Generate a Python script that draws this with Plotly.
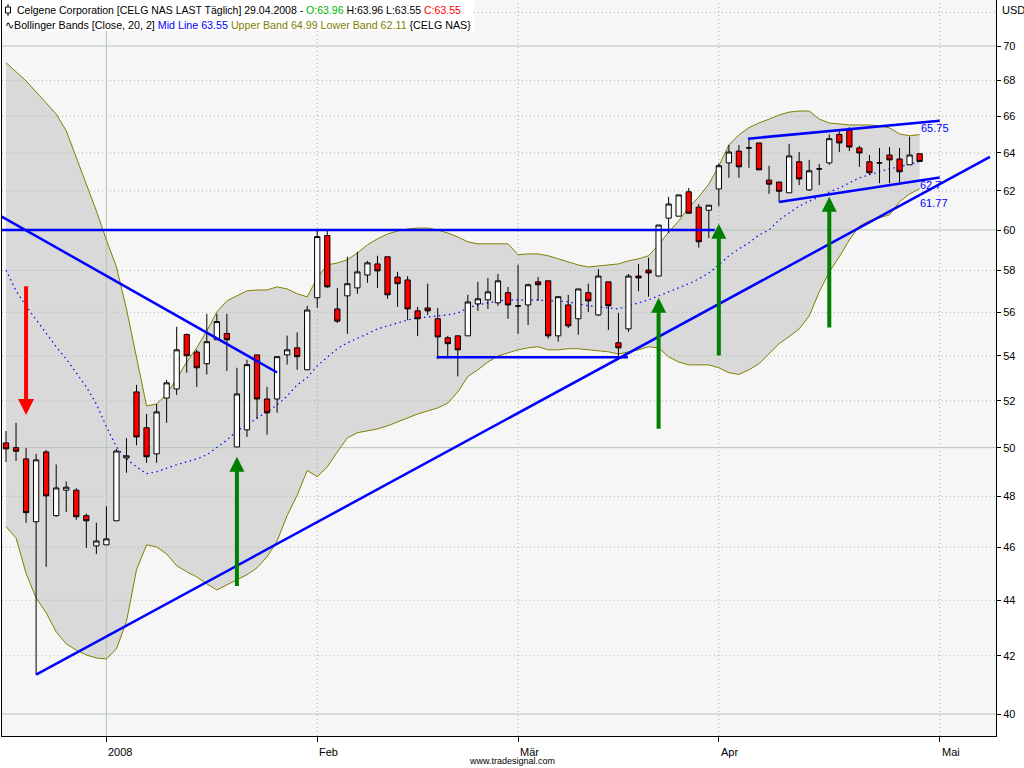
import numpy as np
import plotly.graph_objects as go

# ---------------- data ----------------
idx = list(range(92))  # trading-day index, 0 = mid Dec 2007, 91 = 29.04.2008

opens = [50.2, 50.0, 49.53, 46.99, 49.82, 47.23, 48.25, 48.25, 47.23, 46.05,
         46.09, 47.03, 49.57, 52.39, 50.84, 49.74, 52.12, 52.52, 54.97, 54.17,
         53.64, 54.73, 55.02, 50.03, 50.75, 54.04, 52.08, 52.08, 54.04, 54.36,
         53.37, 56.69, 59.72, 56.16, 56.78, 57.16, 57.78, 58.32, 58.67, 57.68,
         57.54, 56.07, 56.21, 55.7, 54.82, 54.91, 54.91, 56.4, 56.59, 56.45,
         56.93, 56.3, 56.35, 57.45, 57.5, 54.91, 56.35, 55.7, 56.93, 55.88,
         57.45, 54.59, 55.23, 57.73, 58.02, 57.73, 60.6, 60.7, 61.95, 61.16,
         61.0, 62.1, 63.47, 64.1, 64.27, 64.54, 62.56, 62.46, 61.9, 63.53,
         62.05, 63.15, 63.47, 65.0, 65.23, 64.27, 63.53, 63.47, 63.89, 63.68,
         63.37, 63.96]
highs = [50.7, 51.05, 49.98, 49.74, 49.9, 49.3, 48.6, 48.33, 47.31, 46.95,
         47.6, 49.94, 50.4, 52.7, 51.43, 51.86, 52.92, 55.33, 55.02, 54.27,
         55.93, 55.93, 55.93, 53.46, 53.82, 54.04, 52.61, 53.96, 54.92, 55.07,
         56.31, 60.0, 60.0, 57.16, 58.67, 58.91, 58.47, 58.72, 58.67, 57.93,
         57.73, 56.26, 57.36, 56.21, 54.91, 54.91, 56.83, 57.45, 57.64, 57.83,
         57.21, 58.28, 57.36, 57.68, 57.5, 56.74, 56.83, 57.11, 57.36, 58.07,
         57.45, 55.97, 57.83, 58.32, 58.62, 60.25, 61.69, 61.79, 62.15, 61.32,
         61.26, 63.43, 64.43, 64.43, 64.77, 64.54, 63.32, 62.46, 64.49, 64.05,
         63.63, 63.42, 65.0, 65.17, 65.4, 64.38, 63.89, 64.27, 64.32, 64.27,
         64.88, 63.96]
lows = [49.4, 49.45, 46.95, 41.34, 45.25, 47.19, 47.38, 47.07, 45.97, 45.74,
        46.09, 47.03, 48.96, 50.1, 49.37, 49.37, 51.05, 52.26, 53.24, 52.61,
        53.16, 54.73, 53.32, 50.03, 50.45, 51.22, 50.54, 51.48, 53.6, 53.37,
        53.37, 56.21, 57.16, 55.5, 55.0, 56.88, 57.4, 57.16, 56.64, 56.26,
        55.64, 54.9, 55.88, 53.85, 53.95, 53.07, 54.91, 56.07, 56.16, 56.31,
        55.7, 55.0, 55.41, 56.54, 54.78, 54.64, 55.27, 54.96, 56.02, 55.83,
        55.18, 53.95, 55.09, 57.0, 56.74, 57.73, 59.85, 60.7, 60.85, 59.12,
        59.6, 61.21, 62.68, 62.68, 63.21, 63.1, 61.84, 61.42, 61.9, 62.3,
        62.0, 62.3, 63.37, 64.05, 64.1, 63.26, 62.84, 62.4, 62.4, 62.46,
        63.37, 63.55]
closes = [49.95, 49.85, 47.35, 49.49, 48.02, 48.34, 48.37, 47.19, 47.03, 46.24,
          46.32, 49.86, 49.66, 50.45, 49.62, 51.52, 52.79, 54.27, 54.0, 53.46,
          54.64, 55.57, 54.73, 52.3, 53.6, 52.08, 51.48, 53.96, 54.27, 53.96,
          56.11, 59.67, 57.21, 55.59, 57.36, 57.93, 58.37, 57.98, 56.83, 57.36,
          56.16, 55.7, 56.07, 54.86, 54.55, 54.27, 56.49, 56.64, 56.97, 57.5,
          56.35, 56.3, 57.31, 57.31, 54.91, 56.74, 55.37, 57.11, 56.54, 57.73,
          56.31, 54.36, 57.73, 57.64, 57.88, 60.25, 61.32, 61.79, 60.85, 59.41,
          61.26, 63.32, 64.05, 63.26, 64.27, 63.1, 62.35, 61.98, 63.84, 62.62,
          63.05, 63.15, 64.77, 64.54, 64.32, 64.0, 62.95, 63.47, 63.63, 63.0,
          63.89, 63.55]

upper_band = [69.03, 68.5, 67.98, 67.36, 66.74, 66.12, 65.2, 63.79, 62.42, 60.97,
              59.5, 58.17, 56.16, 53.95, 51.78, 51.86, 52.3, 52.97, 53.72, 54.36,
              55.14, 56.02, 56.54, 56.78, 57.02, 57.06, 57.06, 57.21, 57.11, 56.88,
              56.73, 57.64, 58.27, 58.37, 58.52, 58.86, 59.26, 59.56, 59.8, 59.95,
              60.05, 60.1, 60.1, 60.0, 59.85, 59.65, 59.41, 59.31, 59.31, 59.31,
              59.31, 58.77, 58.81, 58.81, 58.72, 58.57, 58.42, 58.27, 58.17, 58.22,
              58.27, 58.32, 58.47, 58.57, 58.72, 59.26, 59.9, 60.46, 61.13, 61.69,
              62.35, 63.31, 64.43, 64.98, 65.37, 65.63, 65.84, 66.07, 66.23, 66.29,
              66.29, 65.84, 65.63, 65.58, 65.52, 65.52, 65.52, 65.47, 65.36, 65.03,
              64.93, 64.99]
mid_line = [58.02, 57.02, 56.3, 55.65, 55.0, 54.41, 53.86, 53.24, 52.61, 51.86,
            50.88, 50.03, 49.53, 49.2, 48.92, 49.0, 49.16, 49.29, 49.41, 49.53,
            49.7, 49.99, 50.32, 50.7, 50.96, 51.22, 51.52, 51.82, 52.21, 52.7,
            53.02, 53.55, 53.95, 54.32, 54.59, 54.78, 55.0, 55.23, 55.37, 55.5,
            55.64, 55.74, 55.78, 55.83, 55.88, 55.97, 56.21, 56.35, 56.45, 56.54,
            56.59, 56.59, 56.59, 56.59, 56.54, 56.54, 56.49, 56.4, 56.31, 56.26,
            56.21, 56.16, 56.31, 56.45, 56.59, 56.78, 56.97, 57.16, 57.36, 57.59,
            57.88, 58.27, 58.72, 59.06, 59.36, 59.75, 60.0, 60.51, 60.87, 61.21,
            61.47, 61.68, 61.94, 62.15, 62.42, 62.68, 62.84, 63.0, 63.16, 63.26,
            63.42, 63.55]
lower_band = [46.8, 46.36, 45.0, 44.08, 43.54, 42.85, 42.42, 42.2, 42.03, 41.92,
              41.89, 42.24, 43.22, 45.14, 46.09, 46.01, 45.74, 45.29, 45.06, 44.87,
              44.61, 44.38, 44.57, 44.76, 44.95, 45.21, 45.63, 46.24, 47.23, 48.05,
              49.05, 48.8, 49.2, 49.82, 50.41, 50.63, 50.72, 50.79, 50.92, 51.09,
              51.26, 51.43, 51.56, 51.69, 51.9, 52.39, 53.07, 53.37, 53.72, 53.99,
              54.13, 54.27, 54.36, 54.41, 54.27, 54.27, 54.32, 54.32, 54.27, 54.22,
              54.18, 54.08, 54.18, 54.27, 54.41, 54.36, 53.95, 53.72, 53.59, 53.59,
              53.59, 53.46, 53.24, 53.16, 53.37, 53.64, 54.08, 54.55, 54.87, 55.23,
              55.83, 56.97, 57.93, 58.67, 59.5, 60.2, 60.46, 60.61, 60.77, 61.44,
              61.84, 62.11]

# drawn trend lines: (index, price) end points
trend_long = ([3, 98.0], [41.34, 63.79])
trend_down = ([-0.43, 27.0], [60.68, 53.25])
resist_60 = ([-0.4, 70.6], [60.0, 60.0])
support_54 = ([42.9, 61.95], [53.93, 53.93])
channel_top = ([73.9, 93.0], [64.77, 65.75])
channel_bot = ([77.0, 93.0], [61.43, 62.7])
line_labels = ["65.75", "62.7", "61.77"]

# signal arrows: (index, tail price, tip price)
arrow_down = [(2, 57.31, 51.39)]
arrows_up = [(23, 44.47, 49.62), (65, 50.73, 56.69), (71, 53.95, 60.31), (82, 55.23, 61.69)]

y_ticks = list(range(40, 71, 2))
y_grid_dotted = [v for v in range(42, 73, 2) if v % 10 != 0]
y_grid_solid = [40, 50, 60, 70]
month_ticks = [10, 31, 51, 71, 93]
month_labels = ["2008", "Feb", "Mär", "Apr", "Mai"]

# ---------------- layout geometry ----------------
W, H = 1024, 768
PL, PR, PT, PB = 2, 996, 0, 736
XR = [-0.398, 98.606]
Y_LO, Y_HI = 39.27, 72.75
YR = [np.log10(Y_LO), np.log10(Y_HI)]

def px(x):
    return (x - PL) / (PR - PL)

def py(y):
    return (PB - y) / (PB - PT)

FONT = "Liberation Sans, Arial, sans-serif"
BLUE = "#0000ff"
OLIVE = "#808000"

fig = go.Figure()

# band fill
fig.add_trace(go.Scatter(x=idx, y=upper_band, mode="lines", line=dict(width=0, color=OLIVE),
                         hoverinfo="skip", showlegend=False))
fig.add_trace(go.Scatter(x=idx, y=lower_band, mode="lines", line=dict(width=0, color=OLIVE),
                         fill="tonexty", fillcolor="#d9d9d9", hoverinfo="skip", showlegend=False))

# grid lines (drawn above fill)
def hlines(vals):
    xs, ys = [], []
    for v in vals:
        xs += [XR[0], XR[1], None]
        ys += [v, v, None]
    return xs, ys

def vlines(vals):
    xs, ys = [], []
    for v in vals:
        xs += [v, v, None]
        ys += [Y_LO, Y_HI, None]
    return xs, ys

gx, gy = hlines(y_grid_dotted)
fig.add_trace(go.Scatter(x=gx, y=gy, mode="lines", line=dict(color="#a8b4a8", width=1, dash="1px,3px"),
                         hoverinfo="skip", showlegend=False))
gx, gy = vlines(month_ticks[1:])
fig.add_trace(go.Scatter(x=gx, y=gy, mode="lines", line=dict(color="#a8b4a8", width=1, dash="1px,3px"),
                         hoverinfo="skip", showlegend=False))
gx, gy = hlines(y_grid_solid)
fig.add_trace(go.Scatter(x=gx, y=gy, mode="lines", line=dict(color="#b4c8b4", width=1),
                         hoverinfo="skip", showlegend=False))
gx, gy = vlines(month_ticks[:1])
fig.add_trace(go.Scatter(x=gx, y=gy, mode="lines", line=dict(color="#b4c8b4", width=1),
                         hoverinfo="skip", showlegend=False))

# band lines
fig.add_trace(go.Scatter(x=idx, y=upper_band, mode="lines", line=dict(width=1, color=OLIVE),
                         hoverinfo="skip", showlegend=False))
fig.add_trace(go.Scatter(x=idx, y=lower_band, mode="lines", line=dict(width=1, color=OLIVE),
                         hoverinfo="skip", showlegend=False))
fig.add_trace(go.Scatter(x=idx, y=mid_line, mode="lines", line=dict(width=1.2, color=BLUE, dash="1.5px,3.5px"),
                         hoverinfo="skip", showlegend=False))

# candles (on overlay axes so they sit above the band fill)
fig.add_trace(go.Candlestick(
    x=idx, open=opens, high=highs, low=lows, close=closes, xaxis="x2", yaxis="y2",
    increasing=dict(line=dict(color="black", width=1), fillcolor="white"),
    decreasing=dict(line=dict(color="black", width=1), fillcolor="#ff0000"),
    whiskerwidth=0, showlegend=False))

# trend lines (overlay axes, above candles)
for tl in [trend_long, trend_down, resist_60, support_54, channel_top, channel_bot]:
    fig.add_trace(go.Scatter(x=tl[0], y=tl[1], mode="lines", line=dict(color=BLUE, width=2.5),
                             xaxis="x2", yaxis="y2", hoverinfo="skip", showlegend=False))

annotations = []
# arrows
for (i, tail, tip) in arrow_down:
    annotations.append(dict(x=i, y=np.log10(tip), ax=i, ay=np.log10(tail), xref="x", yref="y",
                            axref="x", ayref="y", text="", showarrow=True, arrowhead=2,
                            arrowsize=0.8, arrowwidth=4, arrowcolor="#ff0000", standoff=0))
for (i, tail, tip) in arrows_up:
    annotations.append(dict(x=i, y=np.log10(tip), ax=i, ay=np.log10(tail), xref="x", yref="y",
                            axref="x", ayref="y", text="", showarrow=True, arrowhead=2,
                            arrowsize=0.75, arrowwidth=4, arrowcolor="#008000", standoff=0))

# trend line value labels
for lab, (lx, ly) in zip(line_labels, [(919, 128), (918, 185), (918, 203)]):
    annotations.append(dict(x=px(lx), y=py(ly), xref="paper", yref="paper", text=lab,
                            showarrow=False, xanchor="left", yanchor="middle",
                            font=dict(family=FONT, size=11, color=BLUE)))

# header
line1 = ("Celgene Corporation [CELG NAS LAST Täglich] 29.04.2008 - "
         "<span style='color:#00b400'>O:63.96</span> H:63.96 L:63.55 "
         "<span style='color:#ff0000'>C:63.55</span>")
line2 = ("∿Bollinger Bands [Close, 20, 2] <span style='color:#0000ff'>Mid Line 63.55</span> "
         "<span style='color:#808000'>Upper Band 64.99 Lower Band 62.11</span> {CELG NAS}")
annotations.append(dict(x=px(15), y=py(10), xref="paper", yref="paper", text=line1,
                        showarrow=False, xanchor="left", yanchor="middle",
                        font=dict(family=FONT, size=10.5, color="black")))
annotations.append(dict(x=px(3), y=py(25), xref="paper", yref="paper", text=line2,
                        showarrow=False, xanchor="left", yanchor="middle",
                        font=dict(family=FONT, size=10.7, color="black")))

# x labels (left aligned at the tick)
for t, lab in zip(month_ticks, month_labels):
    annotations.append(dict(x=t, y=py(752), xref="x", yref="paper", text=lab, showarrow=False,
                            xanchor="left", yanchor="middle", xshift=0,
                            font=dict(family=FONT, size=11, color="black")))
annotations.append(dict(x=px(512), y=py(761), xref="paper", yref="paper", text="www.tradesignal.com",
                        showarrow=False, xanchor="center", yanchor="middle",
                        font=dict(family=FONT, size=9, color="black")))
annotations.append(dict(x=px(1000), y=py(10), xref="paper", yref="paper", text="USD",
                        showarrow=False, xanchor="left", yanchor="middle",
                        font=dict(family=FONT, size=11, color="black")))

shapes = [
    # header background
    dict(type="rect", xref="paper", yref="paper", x0=px(PL), x1=px(474), y0=py(31), y1=py(0),
         fillcolor="white", line=dict(width=0), layer="above"),
    # header candle icon
    dict(type="line", xref="paper", yref="paper", x0=px(8), x1=px(8), y0=py(16), y1=py(4),
         line=dict(color="black", width=1), layer="above"),
    dict(type="rect", xref="paper", yref="paper", x0=px(5.5), x1=px(10.5), y0=py(13), y1=py(7),
         fillcolor="white", line=dict(color="black", width=1), layer="above"),
]

fig.update_layout(
    width=W, height=H,
    margin=dict(l=PL, r=W - PR, t=PT, b=H - PB, pad=0),
    paper_bgcolor="white", plot_bgcolor="#f6f6f6",
    showlegend=False, boxgap=0.25,
    annotations=annotations, shapes=shapes,
    font=dict(family=FONT, size=11, color="black"),
    xaxis=dict(range=XR, showgrid=False, zeroline=False, showline=True, linecolor="black",
               linewidth=1, ticks="outside", ticklen=5, tickcolor="black",
               tickvals=month_ticks, ticktext=[""] * len(month_ticks),
               rangeslider=dict(visible=False), fixedrange=True),
    yaxis=dict(type="log", range=YR, side="right", showgrid=False, zeroline=False,
               showline=True, mirror=True, linecolor="black", linewidth=1,
               ticks="outside", ticklen=4, tickcolor="black",
               tickvals=y_ticks, ticktext=[str(v) for v in y_ticks],
               tickfont=dict(family=FONT, size=11, color="black"), fixedrange=True),
    xaxis2=dict(range=XR, overlaying="x", visible=False, showgrid=False, zeroline=False,
                rangeslider=dict(visible=False), fixedrange=True),
    yaxis2=dict(type="log", range=YR, overlaying="y", visible=False, showgrid=False,
                zeroline=False, fixedrange=True),
)

fig.write_html("out.html", config={"displayModeBar": False},
               post_script="document.body.style.margin='0px';document.body.style.padding='0px';"
                           "document.body.style.overflow='hidden';")
